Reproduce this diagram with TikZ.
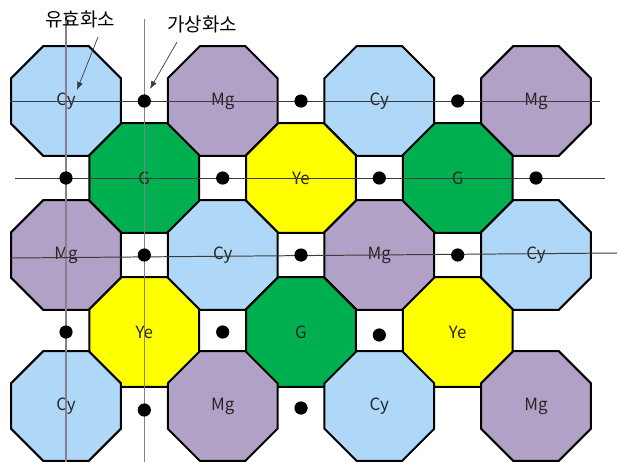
\documentclass[tikz,border=0pt]{standalone}
\usepackage{fontspec}
\setmainfont{Noto Sans CJK KR}
\usepackage{xcolor}
\usepackage{tikz}
\usetikzlibrary{arrows.meta,positioning,shapes.geometric}
\definecolor{cyfill}{HTML}{AFD7F8}
\definecolor{mgfill}{HTML}{B2A1C7}
\definecolor{gfill}{HTML}{00B050}
\definecolor{yefill}{HTML}{FFFF00}
\definecolor{labeltext}{HTML}{262626}
\definecolor{gridgray}{HTML}{858090}
\definecolor{rowline}{HTML}{3C3C3C}

\begin{document}
\begin{tikzpicture}[
    x=0.025cm, y=-0.025cm,
    pixel/.style={
        regular polygon,
        regular polygon sides=8,
        minimum size=2.97cm,
        inner sep=0pt,
        draw=black,
        line width=1.4pt,
        text=labeltext,
        font=\fontsize{12}{14}\selectfont
    },
    cyan pixel/.style={pixel, fill=cyfill},
    magenta pixel/.style={pixel, fill=mgfill},
    green pixel/.style={pixel, fill=gfill},
    yellow pixel/.style={pixel, fill=yefill},
    virtual/.style={circle, fill=black, inner sep=0pt, minimum size=0.33cm},
    caption/.style={text=black, font=\fontsize{13.5}{15}\selectfont},
    colline/.style={draw=gridgray, line width=1.1pt},
    rowline/.style={draw=rowline, line width=0.7pt},
    pointer/.style={-{Latex[length=2mm,width=1.5mm]}, draw=rowline, line width=0.5pt}
]
    \useasboundingbox[fill=white] (0,0) rectangle (619,462);

    % row 1
    \node[cyan pixel]    (cy11) at (66,101)    {Cy};
    \node[magenta pixel] (mg12) at (222.7,101) {Mg};
    \node[cyan pixel]    (cy13) at (379.3,101) {Cy};
    \node[magenta pixel] (mg14) at (536,101)   {Mg};
    % row 2
    \node[green pixel]   (g21)  at (144.3,178) {G};
    \node[yellow pixel]  (ye22) at (301,178)   {Ye};
    \node[green pixel]   (g23)  at (457.7,178) {G};
    % row 3
    \node[magenta pixel] (mg31) at (66,255)    {Mg};
    \node[cyan pixel]    (cy32) at (222.7,255) {Cy};
    \node[magenta pixel] (mg33) at (379.3,255) {Mg};
    \node[cyan pixel]    (cy34) at (536,255)   {Cy};
    % row 4
    \node[yellow pixel]  (ye41) at (144.3,332) {Ye};
    \node[green pixel]   (g42)  at (301,332)   {G};
    \node[yellow pixel]  (ye43) at (457.7,332) {Ye};
    % row 5
    \node[cyan pixel]    (cy51) at (66,406)    {Cy};
    \node[magenta pixel] (mg52) at (222.7,406) {Mg};
    \node[cyan pixel]    (cy53) at (379.3,406) {Cy};
    \node[magenta pixel] (mg54) at (536,406)   {Mg};

    % sampling lines
    \coordinate (colAtop) at (66,13);
    \coordinate (colAbot) at (66,462);
    \coordinate (colBtop) at (144.3,19);
    \coordinate (colBbot) at (144.3,462);
    \coordinate (rowAleft)  at (10,101);
    \coordinate (rowAright) at (600,101);
    \coordinate (rowBleft)  at (15,178);
    \coordinate (rowBright) at (605,178);
    \coordinate (rowCleft)  at (10,258);
    \coordinate (rowCright) at (617,253);
    \draw[colline] (colAtop) -- (colAbot);
    \draw[colline] (colBtop) -- (colBbot);
    \draw[rowline] (rowAleft) -- (rowAright);
    \draw[rowline] (rowBleft) -- (rowBright);
    \draw[rowline] (rowCleft) -- (rowCright);

    % virtual pixels
    \node[virtual] (v11) at (144.3,101) {};
    \node[virtual] (v12) at (301,101)   {};
    \node[virtual] (v13) at (457.7,101) {};
    \node[virtual] (v21) at (66,178)    {};
    \node[virtual] (v22) at (222.7,178) {};
    \node[virtual] (v23) at (379.3,178) {};
    \node[virtual] (v24) at (536,178)   {};
    \node[virtual] (v31) at (144.3,255) {};
    \node[virtual] (v32) at (301,255)   {};
    \node[virtual] (v33) at (457.7,255) {};
    \node[virtual] (v41) at (66,332)    {};
    \node[virtual] (v42) at (222.7,332) {};
    \node[virtual] (v43) at (379.3,335) {};
    \node[virtual] (v51) at (144.3,410) {};
    \node[virtual] (v52) at (301,408)   {};

    % captions
    \node[caption] (effective) at (80,19)  {유효화소};
    \node[caption] (fake)      at (202,24) {가상화소};
    \coordinate (effstart) at (98,37);
    \coordinate (effend)   at (77,90);
    \coordinate (fakestart) at (177,42);
    \coordinate (fakeend)   at (150,89);
    \draw[pointer] (effstart) -- (effend);
    \draw[pointer] (fakestart) -- (fakeend);
\end{tikzpicture}
\end{document}
